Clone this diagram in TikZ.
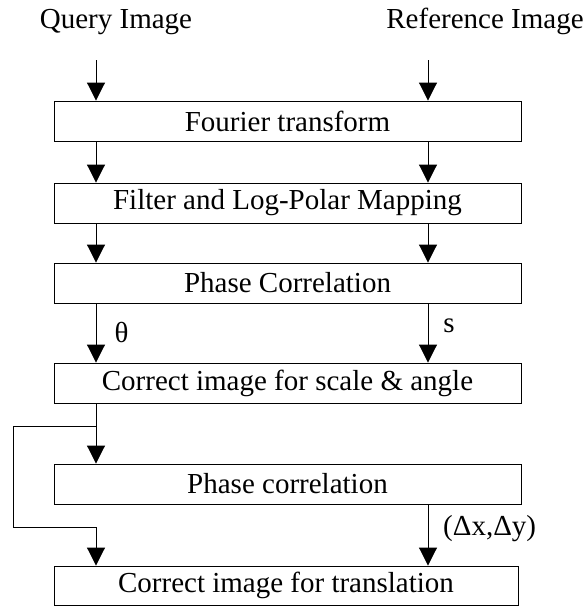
\documentclass[tikz,border=0pt]{standalone}
\usepackage{fontspec}
\setmainfont{Liberation Serif}
\usetikzlibrary{arrows.meta}
\begin{document}
\begin{tikzpicture}[x=1pt,y=-1pt,
  box/.style={draw, line width=0.9pt, minimum height=40pt, inner sep=0pt, font=\fontsize{29}{34}\selectfont},
  lbl/.style={inner sep=0pt, font=\fontsize{29}{34}\selectfont},
  arr/.style={line width=0.9pt, -{Triangle[length=18pt,width=18pt]}},
  ln/.style={line width=0.9pt}]
\useasboundingbox (0,0) rectangle (587,606);
% labels
\node[lbl, anchor=base] (q) at (116,28) {Query Image};
\node[lbl, anchor=base] (r) at (485,28) {Reference Image};
\coordinate (qs) at (96,60);
\coordinate (rs) at (428,60);
% boxes
\node[box, minimum width=467pt] (b1) at (287.5,121) {Fourier transform};
\node[box, minimum width=467pt] (b2) at (287.5,203) {Filter and Log-Polar Mapping};
\node[box, minimum width=467pt] (b3) at (287.5,283) {Phase Correlation};
\node[box, minimum width=467pt] (b4) at (287.5,383) {Correct image for scale \& angle};
\node[box, minimum width=467pt] (b5) at (287.5,484) {Phase correlation};
\node[box, minimum width=464pt, minimum height=39.5pt] (b6) at (286,585.75) {Correct image for translation};
% arrows
\draw[arr] (qs) -- (qs |- b1.north);
\draw[arr] (rs) -- (rs |- b1.north);
\draw[arr] (qs |- b1.south) -- (qs |- b2.north);
\draw[arr] (rs |- b1.south) -- (rs |- b2.north);
\draw[arr] (qs |- b2.south) -- (qs |- b3.north);
\draw[arr] (rs |- b2.south) -- (rs |- b3.north);
\draw[arr] (qs |- b3.south) -- (qs |- b4.north);
\draw[arr] (rs |- b3.south) -- (rs |- b4.north);
\draw[arr] (qs |- b4.south) -- (qs |- b5.north);
\draw[arr] (rs |- b5.south) -- (rs |- b6.north);
% loop
\coordinate (lp1) at (96,426);
\coordinate (lp2) at (13,527);
\draw[ln] (lp1) -| (lp2);
\draw[arr] (lp2) -| (qs |- b6.north);
% edge labels
\node[lbl, anchor=base] (th) at (121.5,342) {θ};
\node[lbl, anchor=base] (s) at (449,332) {s};
\node[lbl, anchor=base west] (dxy) at (443,535) {(Δx,Δy)};
\end{tikzpicture}
\end{document}
